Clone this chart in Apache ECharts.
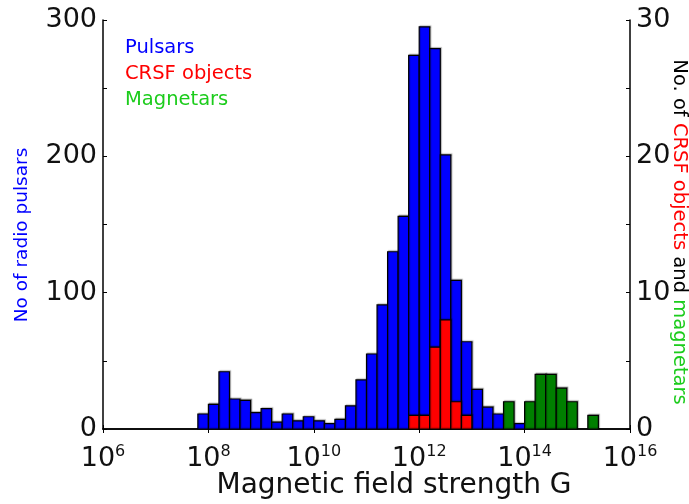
<!DOCTYPE html>
<html>
<head>
<meta charset="utf-8">
<script src="https://cdn.jsdelivr.net/npm/echarts@6/dist/echarts.min.js"></script>
<style>
html,body{margin:0;padding:0;background:#fff;}
#chart{width:689px;height:504px;}
</style>
</head>
<body>
<div id="chart"></div>
<script>
// log10(B) of each bin's left edge, and counts
const BIN = 0.2;
const pulsarLogB = [7.8, 8.0, 8.2, 8.4, 8.6, 8.8, 9.0, 9.2, 9.4, 9.6, 9.8, 10.0, 10.2, 10.4, 10.6, 10.8, 11.0, 11.2, 11.4, 11.6, 11.8, 12.0, 12.2, 12.4, 12.6, 12.8, 13.0, 13.2, 13.4, 13.6, 13.8];
const pulsarCounts = [11, 18, 42, 22, 21, 12, 15, 5, 11, 6, 9, 6, 4, 7, 17, 36, 55, 91, 130, 156, 274, 295, 279, 201, 109, 64, 29, 16, 11, 0, 4];
const crsfLogB = [11.8, 12.0, 12.2, 12.4, 12.6, 12.8];
const crsfCounts = [1, 1, 6, 8, 2, 1];
const magnetarLogB = [13.6, 14.0, 14.2, 14.4, 14.6, 14.8, 15.2];
const magnetarCounts = [2, 2, 4, 4, 3, 2, 1];
const xTicks = [6, 8, 10, 12, 14, 16];

const FONT = '"DejaVu Sans", sans-serif';
const chart = echarts.init(document.getElementById('chart'), null, {renderer: 'canvas'});

function makeRender(color) {
  return function (params, api) {
    const x0 = api.value(0), v = api.value(1);
    if (!(v > 0)) return null;
    const p0 = api.coord([x0, 0]);
    const p1 = api.coord([x0 + BIN, v]);
    return {
      type: 'rect',
      shape: {x: p0[0], y: p1[1], width: p1[0] - p0[0], height: p0[1] - p1[1]},
      style: {fill: color, stroke: '#000', lineWidth: 1.2,
        shadowColor: 'rgba(0,0,0,0.25)', shadowOffsetX: 1, shadowOffsetY: -1, shadowBlur: 1}
    };
  };
}
function pairs(xs, ys) { return xs.map((x, i) => [x, ys[i]]); }

const axisLine = {show: true, lineStyle: {color: '#000', width: 1.5}};

chart.setOption({
  animation: false,
  backgroundColor: '#fff',
  grid: {left: 103, top: 20, right: 59, bottom: 75, containLabel: false},
  xAxis: [{
    type: 'value', min: 6, max: 16, interval: 2, position: 'bottom',
    axisLine: axisLine,
    axisTick: {show: true, inside: true, length: 4, lineStyle: {color: '#000', width: 1}},
    splitLine: {show: false},
    axisLabel: {
      margin: 15,
      formatter: v => '{b|10}{s|' + v + '}',
      rich: {
        b: {fontFamily: FONT, fontSize: 27, color: '#111', lineHeight: 30},
        s: {fontFamily: FONT, fontSize: 16, color: '#111', verticalAlign: 'top', lineHeight: 16}
      }
    }
  }, {
    type: 'value', min: 6, max: 16, interval: 2, position: 'top',
    axisLine: axisLine,
    axisTick: {show: true, inside: true, length: 4, lineStyle: {color: '#000', width: 1}},
    axisLabel: {show: false}, splitLine: {show: false}
  }],
  yAxis: [{
    type: 'value', min: 0, max: 300, interval: 100, position: 'left',
    axisLine: axisLine,
    axisTick: {show: true, inside: true, length: 4, lineStyle: {color: '#000', width: 1}},
    minorTick: {show: true, splitNumber: 2, length: 4, lineStyle: {color: '#000', width: 1}},
    splitLine: {show: false},
    axisLabel: {fontFamily: FONT, fontSize: 27, color: '#111', margin: 6}
  }, {
    type: 'value', min: 0, max: 30, interval: 10, position: 'right',
    axisLine: axisLine,
    axisTick: {show: true, inside: true, length: 4, lineStyle: {color: '#000', width: 1}},
    minorTick: {show: true, splitNumber: 2, length: 4, lineStyle: {color: '#000', width: 1}},
    splitLine: {show: false},
    axisLabel: {fontFamily: FONT, fontSize: 27, color: '#111', margin: 6}
  }],
  series: [
    {type: 'custom', name: 'Pulsars', xAxisIndex: 0, yAxisIndex: 0, z: 2,
     renderItem: makeRender('#0000ff'), data: pairs(pulsarLogB, pulsarCounts)},
    {type: 'custom', name: 'CRSF objects', xAxisIndex: 0, yAxisIndex: 1, z: 3,
     renderItem: makeRender('#ff0000'), data: pairs(crsfLogB, crsfCounts)},
    {type: 'custom', name: 'Magnetars', xAxisIndex: 0, yAxisIndex: 1, z: 3,
     renderItem: makeRender('#007f00'), data: pairs(magnetarLogB, magnetarCounts)}
  ],
  graphic: [
    {type: 'text', left: 125, top: 38, z: 10,
     style: {text: 'Pulsars', fill: '#0000ff', font: '19.5px ' + FONT}},
    {type: 'text', left: 125, top: 64, z: 10,
     style: {text: 'CRSF objects', fill: '#ff0000', font: '19.5px ' + FONT}},
    {type: 'text', left: 125, top: 90, z: 10,
     style: {text: 'Magnetars', fill: '#1ccc1c', font: '19.5px ' + FONT}},
    {type: 'text', x: 394, y: 486, z: 10,
     style: {text: 'Magnetic field strength G', fill: '#111', font: '28px ' + FONT,
       align: 'center', verticalAlign: 'middle'}},
    {type: 'text', x: 22, y: 235, rotation: Math.PI / 2, z: 10,
     style: {text: 'No of radio pulsars', fill: '#0000ff', font: '18.5px ' + FONT,
       align: 'center', verticalAlign: 'middle'}},
    {type: 'text', x: 679, y: 232, rotation: -Math.PI / 2, z: 10,
     style: {
       text: '{k|No. of }{r|CRSF objects}{k| and }{g|magnetars}',
       align: 'center', verticalAlign: 'middle', font: '19.5px ' + FONT,
       rich: {
         k: {fill: '#000', fontFamily: FONT, fontSize: 19.5},
         r: {fill: '#ff0000', fontFamily: FONT, fontSize: 19.5},
         g: {fill: '#1ccc1c', fontFamily: FONT, fontSize: 19.5}
       }
     }}
  ]
});
</script>
</body>
</html>
